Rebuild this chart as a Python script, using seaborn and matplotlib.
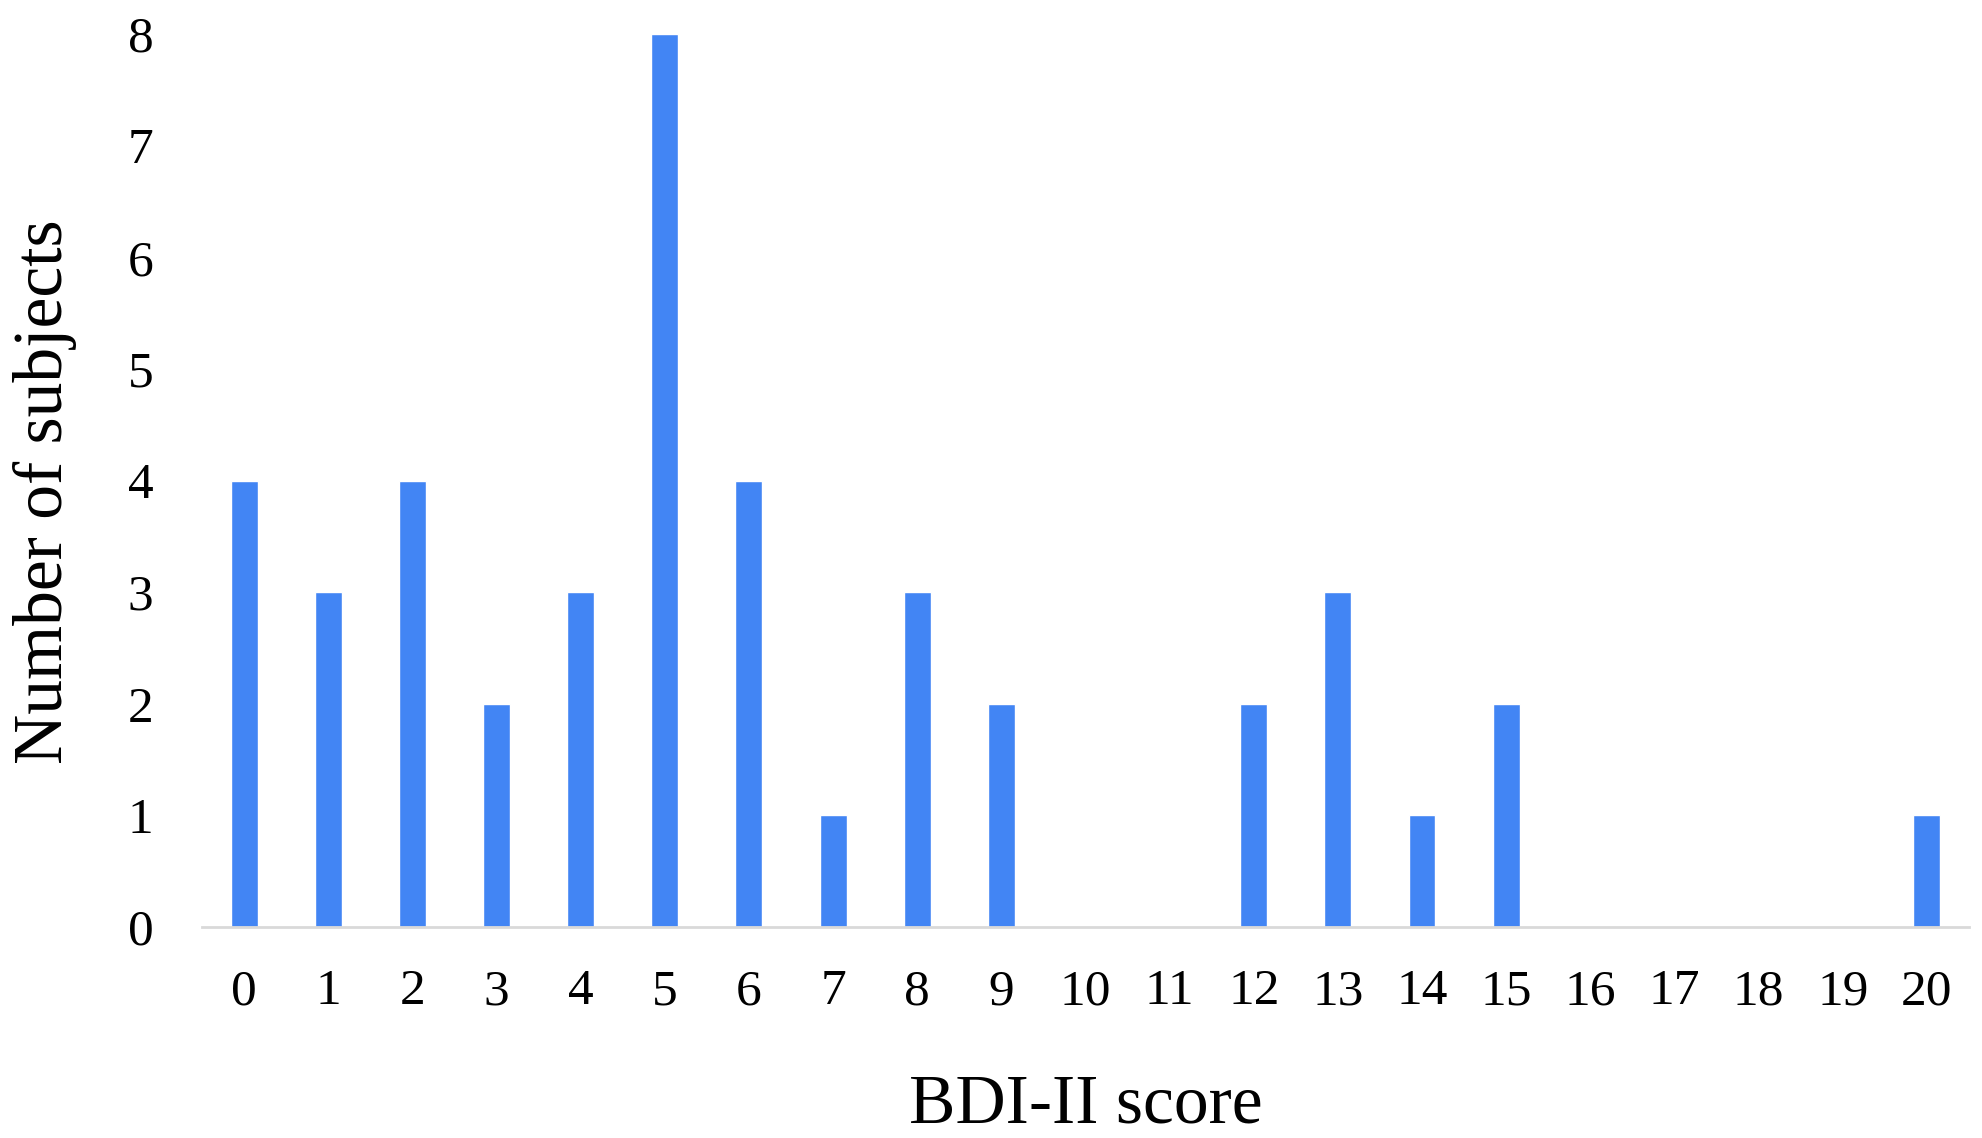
import matplotlib
matplotlib.use("Agg")
import matplotlib.pyplot as plt
import seaborn as sns
import pandas as pd

scores = [str(i) for i in range(21)]
counts = [4, 3, 4, 2, 3, 8, 4, 1, 3, 2, 0, 0, 2, 3, 1, 2, 0, 0, 0, 0, 1]

sns.set_theme(style="white")
plt.rcParams['font.family'] = ['Liberation Serif', 'DejaVu Serif']

df = pd.DataFrame({"score": scores, "count": counts})

fig = plt.figure(figsize=(19.83, 11.38), dpi=100)
ax = fig.add_axes([0.1019, 0.1854, 0.8910, 0.7847])
sns.barplot(data=df, x="score", y="count", order=scores, color="#4285F4",
            saturation=1, width=0.32, ax=ax)
ax.set_xlim(-0.5, 20.5)
ax.set_ylim(0, 8)
ax.set_yticks(range(0, 9))
for s in ["top", "right", "left"]:
    ax.spines[s].set_visible(False)
ax.spines["bottom"].set_color("#d9d9d9")
ax.spines["bottom"].set_linewidth(2)
ax.tick_params(axis="both", length=0, labelsize=37, colors="black")
ax.tick_params(axis="x", pad=30)
ax.tick_params(axis="y", pad=35)
ax.set_xlabel("BDI-II score", fontsize=50, labelpad=42, color="black")
ax.set_ylabel("Number of subjects", fontsize=50, color="black")
ax.yaxis.set_label_coords(-0.071, 0.487)
fig.savefig("out.png", dpi=100)
